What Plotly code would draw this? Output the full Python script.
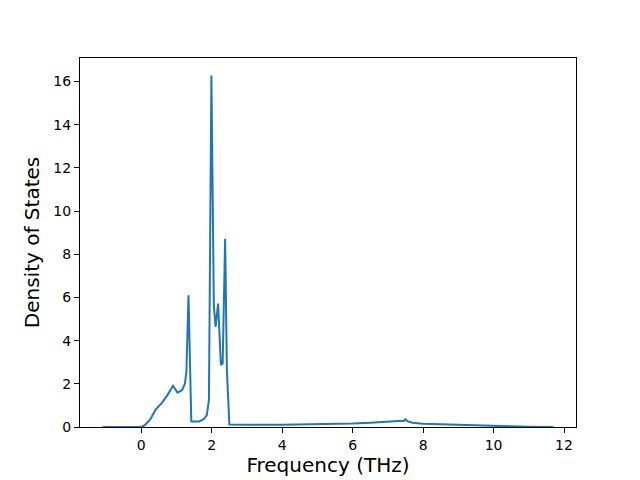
import plotly.graph_objects as go

freq = [-1.1, -0.5, 0.0, 0.1, 0.26, 0.40, 0.59, 0.75, 0.90, 1.03, 1.16, 1.24, 1.28, 1.34, 1.42,
        1.64, 1.78, 1.86, 1.92, 1.99, 2.06, 2.11, 2.18, 2.26, 2.31, 2.38, 2.43, 2.50,
        3.0, 4.0, 5.0, 6.0, 6.5, 7.0, 7.1, 7.3, 7.45, 7.5, 7.55, 7.7, 8.0, 8.5, 9.0, 9.5,
        10.0, 10.5, 11.0, 11.7]
dos = [0.0, 0.0, 0.0, 0.08, 0.36, 0.79, 1.13, 1.5, 1.91, 1.59, 1.71, 2.02, 2.56, 6.10, 0.25,
       0.25, 0.37, 0.55, 1.25, 16.28, 5.6, 4.64, 5.72, 2.87, 2.94, 8.72, 2.6, 0.12,
       0.1, 0.1, 0.12, 0.16, 0.2, 0.25, 0.29, 0.28, 0.28, 0.36, 0.27, 0.2, 0.15, 0.12, 0.1, 0.07,
       0.05, 0.03, 0.01, 0.0]

x_ticks = [0, 2, 4, 6, 8, 10, 12]
y_ticks = [0, 2, 4, 6, 8, 10, 12, 14, 16]

fig = go.Figure()
fig.add_trace(go.Scatter(x=freq, y=dos, mode="lines",
                         line=dict(color="#1f77b4", width=2), showlegend=False))

axis_common = dict(showline=True, linecolor="black", linewidth=1, mirror=True,
                   ticks="outside", ticklen=5, tickwidth=1, tickcolor="black",
                   showgrid=False, zeroline=False,
                   tickfont=dict(family="DejaVu Sans", size=14, color="black"))

fig.update_layout(
    width=640, height=480,
    margin=dict(l=72, r=72, t=50, b=61),
    paper_bgcolor="white", plot_bgcolor="white",
    font=dict(family="DejaVu Sans", color="black"),
    xaxis=dict(range=[-1.74, 12.34], tickvals=x_ticks,
               title=dict(text="Frequency (THz)", font=dict(size=20), standoff=5),
               **axis_common),
    yaxis=dict(range=[0, 17.09], tickvals=y_ticks,
               title=dict(text="Density of States", font=dict(size=20), standoff=8),
               **axis_common),
)

fig.write_html("out.html")
